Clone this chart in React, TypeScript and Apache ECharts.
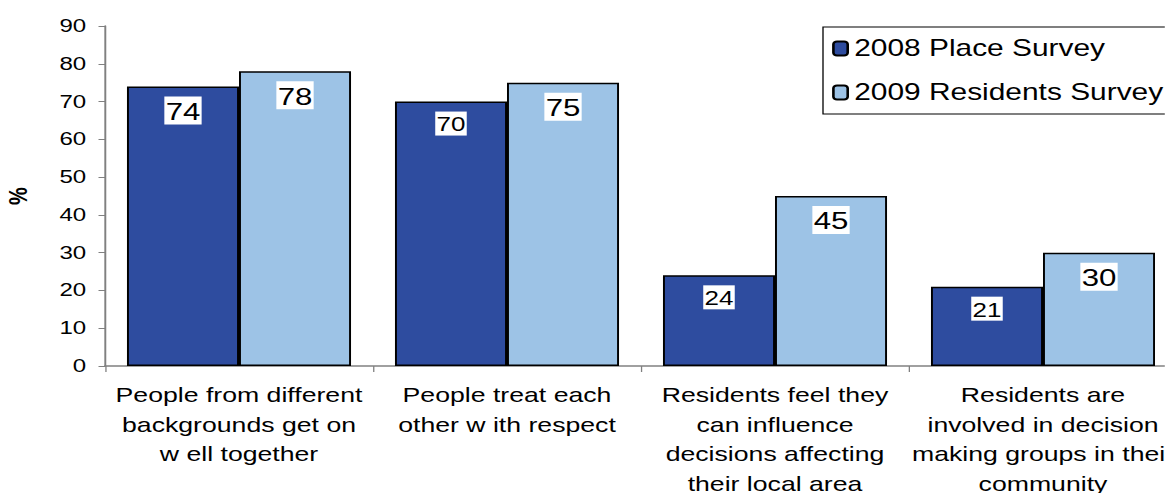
import React, { useEffect, useRef } from "react";
import * as echarts from "echarts";

const categories = [
  "People from different\nbackgrounds get on\nw ell together",
  "People treat each\nother w ith respect",
  "Residents feel they\ncan influence\ndecisions affecting\ntheir local area",
  "Residents are\ninvolved in decision\nmaking groups in their\ncommunity",
];
const series2008 = [74, 70, 24, 21];
const series2009 = [78, 75, 45, 30];
const labelSize2008 = [24, 20, 20, 20];
const labelSize2009 = [24, 24, 24, 24];
const seriesNames = ["2008 Place Survey", "2009 Residents Survey"];
const FONT = "Liberation Sans, Arial, sans-serif";

// the reference image is stretched horizontally; we render narrower and stretch with CSS
const SX = 1.3;
const W = 1165 / SX;

export default function App() {
  const ref = useRef<HTMLDivElement>(null);
  useEffect(() => {
    if (!ref.current) return;
    const chart = echarts.init(ref.current, null, { renderer: "svg" });
    const mk = (vals: number[], sizes: number[]) =>
      vals.map((v, i) => ({
        value: v,
        label: { fontSize: sizes[i] },
      }));
    const label = {
      show: true,
      position: "insideTop",
      distance: 10,
      color: "#000",
      backgroundColor: "#fff",
      padding: [3, 1, 1, 1],
      fontFamily: FONT,
    };
    chart.setOption({
      animation: false,
      textStyle: { fontFamily: FONT },
      grid: {
        left: 105 / SX,
        width: 1072 / SX,
        top: 26,
        bottom: 127,
        containLabel: false,
        outerBoundsMode: "none",
      },
      legend: {
        orient: "vertical",
        left: 823 / SX,
        top: 27,
        borderColor: "#000",
        borderWidth: 1,
        padding: [10, 60, 10, 7],
        itemWidth: 11,
        itemHeight: 14,
        itemGap: 21,
        textStyle: { fontSize: 23, color: "#000", fontFamily: FONT },
        data: seriesNames,
      },
      xAxis: {
        type: "category",
        data: categories,
        axisLine: { lineStyle: { color: "#808080", width: 1.5 } },
        axisTick: { show: true, length: 6, lineStyle: { color: "#808080" } },
        axisLabel: {
          interval: 0,
          fontSize: 20.5,
          color: "#000",
          lineHeight: 29.5,
          margin: 14,
          fontFamily: FONT,
        },
      },
      yAxis: {
        type: "value",
        min: 0,
        max: 90,
        interval: 10,
        name: "%",
        nameLocation: "middle",
        nameGap: 57,
        nameRotate: 90,
        nameTextStyle: { fontSize: 20, fontWeight: "bold", color: "#000", fontFamily: FONT },
        axisLine: { show: true, lineStyle: { color: "#808080", width: 1.5 } },
        axisTick: { show: true, length: 5, lineStyle: { color: "#808080" } },
        axisLabel: { fontSize: 18.5, color: "#000", margin: 14.5, fontFamily: FONT },
        splitLine: { show: false },
      },
      series: [
        {
          name: seriesNames[0],
          type: "bar",
          data: mk(series2008, labelSize2008),
          barGap: "0%",
          barCategoryGap: "16.4%",
          itemStyle: { color: "#2E4C9F", borderColor: "#000", borderWidth: 1.5 },
          label,
        },
        {
          name: seriesNames[1],
          type: "bar",
          data: mk(series2009, labelSize2009),
          itemStyle: { color: "#9DC3E6", borderColor: "#000", borderWidth: 1.5 },
          label,
        },
      ],
    });
    return () => chart.dispose();
  }, []);
  return (
    <div
      style={{ position: "absolute", left: 0, top: 0, width: 1165, height: 493, overflow: "hidden" }}
    >
      <div
        ref={ref}
        style={{
          width: W,
          height: 493,
          transform: `scaleX(${SX})`,
          transformOrigin: "0 0",
        }}
      />
    </div>
  );
}
